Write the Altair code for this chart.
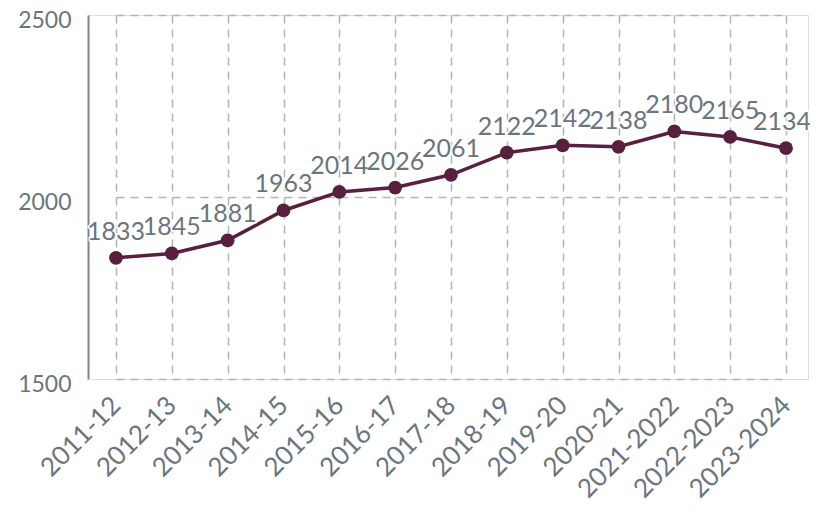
import altair as alt
import pandas as pd

years = ["2011-12", "2012-13", "2013-14", "2014-15", "2015-16", "2016-17", "2017-18",
         "2018-19", "2019-20", "2020-21", "2021-2022", "2022-2023", "2023-2024"]
values = [1833, 1845, 1881, 1963, 2014, 2026, 2061, 2122, 2142, 2138, 2180, 2165, 2134]

df = pd.DataFrame({"year": years, "value": values})

LINE = "#58203e"
TXT = "#6c757d"
GRID = "#b0b4b8"

x = alt.X("year:N", sort=years,
          scale=alt.Scale(type="point", range=[28, 698], padding=0),
          axis=alt.Axis(title=None, labelAngle=-45, labelAlign="right", labelBaseline="middle",
                        labelFont="Lato", labelFontSize=26, labelColor=TXT, labelPadding=22,
                        domain=False, ticks=False, grid=True, gridColor=GRID,
                        gridDash=[8, 6], gridWidth=1.5, labelOverlap=False))
y = alt.Y("value:Q",
          scale=alt.Scale(domain=[1500, 2500], nice=False, zero=False),
          axis=alt.Axis(title=None, values=[1500, 2000, 2500], format="d", labelFont="Lato",
                        labelFontSize=23, labelColor=TXT, labelPadding=17, ticks=False,
                        labelOffset=5.5,
                        domain=True, domainColor="#7d848b", domainWidth=2,
                        grid=True, gridColor=GRID, gridDash=[8, 6], gridWidth=1.5))

base = alt.Chart(df).encode(x=x, y=y)
main = alt.datum.year != years[-1]
last = alt.datum.year == years[-1]

line = base.mark_line(color=LINE, strokeWidth=3.5)
pts = base.mark_point(filled=True, color=LINE, size=190, opacity=1)


def text_layers(dx):
    txt = alt.Text("value:Q", format="d")
    halo = base.mark_text(dy=-26, dx=dx, font="Lato", fontSize=25, color="white",
                          stroke="white", strokeWidth=3).encode(text=txt)
    lab = base.mark_text(dy=-26, dx=dx, font="Lato", fontSize=25, color=TXT).encode(text=txt)
    return halo, lab


h1, l1 = text_layers(0)
h2, l2 = text_layers(-4)
h1, l1 = h1.transform_filter(main), l1.transform_filter(main)
h2, l2 = h2.transform_filter(last), l2.transform_filter(last)

chart = (line + pts + h1 + h2 + l1 + l2).properties(
    width=720, height=364,
    autosize=alt.AutoSizeParams(type="none"),
    padding={"left": 80, "top": 7, "right": 2, "bottom": 124},
).configure_view(stroke=None).configure(background="white")

chart.save("out.html", embed_options={"renderer": "svg", "actions": False})
